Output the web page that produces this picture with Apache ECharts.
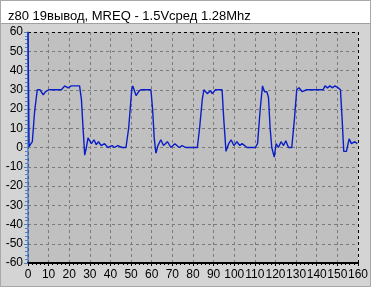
<!DOCTYPE html>
<html><head><meta charset="utf-8">
<script src="https://cdn.jsdelivr.net/npm/echarts@6/dist/echarts.min.js"></script>
<style>html,body{margin:0;padding:0;background:#d4d4d4}#c{width:371px;height:287px}</style>
</head><body><div id="c"></div>
<script>
var titleText = 'z80 19вывод, MREQ - 1.5Vсред 1.28Mhz';
var xTicks = [0,10,20,30,40,50,60,70,80,90,100,110,120,130,140,150,160];
var yTicks = [-60,-50,-40,-30,-20,-10,0,10,20,30,40,50,60];
var xs = [0,0.5,2.1,3.2,4.5,5.8,7.4,8.5,10.1,16.2,17.8,19.4,21,25,25.9,26.7,27.5,28.3,29.1,30.7,32,33.1,34.2,35.5,37.1,38.7,40.8,41.9,43.5,45.6,47.5,48.8,50.3,50.8,52.4,54,55,59.6,60.4,61.2,62,63,64.4,65.7,67.6,69.3,71.2,73.3,74.7,76.5,82.1,83.2,84.5,85.3,86.9,88.5,89.3,90.9,94.1,94.9,96,97.3,98.5,99.8,101.3,102.7,103.8,106.2,110.2,111.3,112.6,113.7,114.7,115.8,116.6,117.4,118.2,119.4,120.3,121.4,122.7,123.9,125,126.3,127.9,129.2,130.3,131.4,133,135.1,143.1,144,145.2,146.4,147.5,148.8,150.4,151.5,152.3,153.1,154.4,155.7,156.8,158.4,159.7];
var ys = [60,0.4,3,18.6,30,30,27.3,29,30,30,32,31,32,32,25,10,-4,0,5,2,4,1.5,3,1,2,0,1,0,1,0,0,10,30,32,27,29.5,30,30,20,5,-3,1,4,1,3,0,2,0,1,0,0,10,25,30,28,29.5,28,30,30,15,-2,2,4,1,3,1,2,0,0,2,20,32,29,29,26,10,0,-5,2,0,3,1,3.5,0,0,15,30,31,29,30,30,32,31,32,31,32,31,30,15,-2,-2,4.5,2,3,2];

var data = xs.map(function(x,i){return [x, ys[i]];});
function edgeColors(n){var a=[];for(var i=0;i<n;i++){a.push(i===0||i===n-1?'#000000':'#7a7a7a');}return a;}

var chart = echarts.init(document.getElementById('c'), null, {renderer:'canvas'});
chart.setOption({
  backgroundColor:'#d4d4d4',
  animation:false,
  textStyle:{fontFamily:'Liberation Sans, Arial, sans-serif'},
  graphic:[
    {type:'rect', shape:{x:0.5,y:0.5,width:370,height:23}, style:{fill:'#ffffff', stroke:'#a0a0a0', lineWidth:1}, z:-1},
    {type:'rect', shape:{x:0.5,y:0.5,width:370,height:286}, style:{fill:'none', stroke:'#a8a8a8', lineWidth:1}, z:-1}
  ],
  title:{text:titleText, left:3, top:5, textStyle:{fontSize:13, fontWeight:'normal', color:'#000', fontFamily:'Liberation Sans, Arial, sans-serif'}},
  grid:{left:28, right:11, top:32, bottom:24, show:true, backgroundColor:'#c0c0c0', borderWidth:0},
  xAxis:{type:'value', min:xTicks[0], max:xTicks[xTicks.length-1], interval:10,
    axisLine:{show:true, onZero:false, lineStyle:{color:'#000', width:2}},
    axisTick:{show:true, length:3, lineStyle:{color:'#000'}},
    minorTick:{show:true, splitNumber:5, length:2, lineStyle:{color:'#000'}},
    axisLabel:{fontSize:12, color:'#000', margin:6, showMinLabel:true, showMaxLabel:true},
    splitLine:{show:true, lineStyle:{type:[3,3], color:edgeColors(xTicks.length), width:1}}
  },
  yAxis:{type:'value', min:yTicks[0], max:yTicks[yTicks.length-1], interval:10,
    axisLine:{show:true, onZero:false, lineStyle:{color:'#4f7fc4', width:1.5}},
    axisTick:{show:true, length:4, lineStyle:{color:'#4f7fc4'}},
    minorTick:{show:true, splitNumber:5, length:3, lineStyle:{color:'#4f7fc4'}},
    axisLabel:{fontSize:12, color:'#000', margin:5},
    splitLine:{show:true, lineStyle:{type:[3,3], color:edgeColors(yTicks.length), width:1}}
  },
  series:[{type:'line', data:data, showSymbol:false, symbol:'none', clip:true,
    lineStyle:{color:'#0a1ec8', width:1.4}}]
});
</script></body></html>
